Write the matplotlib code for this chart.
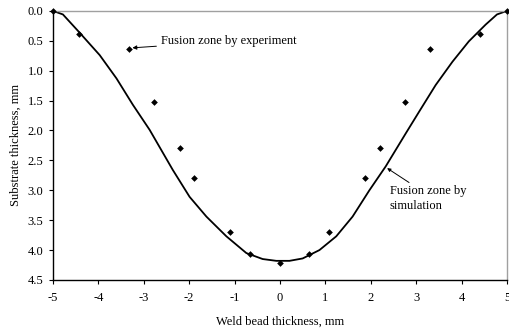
import matplotlib
matplotlib.use("Agg")
import matplotlib.pyplot as plt

# simulated fusion zone boundary
sim_x = [-5.0, -4.78, -4.43, -3.97, -3.6, -3.24, -2.87, -2.36, -1.99, -1.62, -1.18,
         -0.74, -0.38, -0.08, 0.21, 0.5, 0.87, 1.24, 1.6, 1.97, 2.33, 2.77, 3.07,
         3.43, 3.8, 4.16, 4.53, 4.78, 5.0]
sim_y = [0.0, 0.06, 0.35, 0.74, 1.13, 1.57, 1.99, 2.66, 3.11, 3.44, 3.77,
         4.05, 4.15, 4.18, 4.18, 4.14, 4.0, 3.77, 3.44, 3.0, 2.6, 2.05, 1.68,
         1.24, 0.85, 0.51, 0.23, 0.06, 0.0]

# experiment points
exp_x = [-5.0, -4.42, -3.32, -2.77, -2.21, -1.89, -1.11, -0.67, 0.0,
         0.65, 1.09, 1.88, 2.21, 2.76, 3.31, 4.41, 5.0]
exp_y = [0.0, 0.38, 0.63, 1.53, 2.29, 2.8, 3.69, 4.07, 4.21,
         4.07, 3.69, 2.8, 2.29, 1.53, 0.63, 0.38, 0.0]

plt.rcParams['font.family'] = ['Liberation Serif', 'DejaVu Serif']
plt.rcParams['axes.unicode_minus'] = False

fig = plt.figure(figsize=(5.09, 3.29), dpi=100)
ax = fig.add_axes([0.104, 0.149, 0.892, 0.818])

ax.plot(sim_x, sim_y, color='black', lw=1.3, zorder=2)
ax.plot(exp_x, exp_y, linestyle='none', marker='D', markersize=3.4,
        markeredgewidth=0, color='black', zorder=3, clip_on=False)

ax.set_xlim(-5, 5)
ax.set_ylim(4.5, 0)
ax.set_xticks(range(-5, 6))
ax.set_yticks([0, 0.5, 1, 1.5, 2, 2.5, 3, 3.5, 4, 4.5])
ax.set_yticklabels(['%.1f' % v for v in ax.get_yticks()])
ax.tick_params(labelsize=9, length=3, width=0.8, direction='out', pad=4)
ax.tick_params(axis='x', pad=6)

for s in ['left', 'bottom']:
    ax.spines[s].set_color('black')
    ax.spines[s].set_linewidth(1.0)
for s in ['top', 'right']:
    ax.spines[s].set_color('#a0a0a0')
    ax.spines[s].set_linewidth(1.0)

ax.set_xlabel('Weld bead thickness, mm', fontsize=9, labelpad=8)
ax.set_ylabel('Substrate thickness, mm', fontsize=9, labelpad=4)

ax.annotate('Fusion zone by experiment', xy=(-3.28, 0.62), xytext=(-2.63, 0.51),
            fontsize=9, va='center', ha='left',
            arrowprops=dict(arrowstyle='-|>', color='black', lw=0.7,
                            mutation_scale=6, shrinkA=1, shrinkB=1))
ax.annotate('Fusion zone by\nsimulation', xy=(2.36, 2.63), xytext=(2.42, 3.14),
            fontsize=9, va='center', ha='left', linespacing=1.3,
            arrowprops=dict(arrowstyle='-|>', color='black', lw=0.7,
                            mutation_scale=5, shrinkA=0, shrinkB=0,
                            relpos=(0.28, 1.05)))

fig.savefig('out.png', dpi=100)
